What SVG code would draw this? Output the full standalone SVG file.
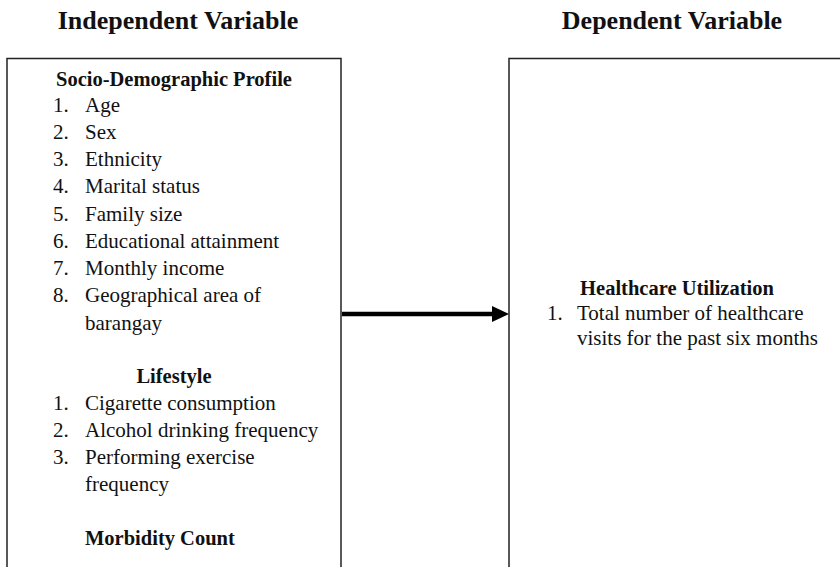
<svg xmlns="http://www.w3.org/2000/svg" width="840" height="567" viewBox="0 0 840 567">
<style>
text { font-family: "Liberation Serif", "Times New Roman", serif; fill: #111; }
.title { font-size: 26px; font-weight: bold; text-anchor: middle; }
.head { font-size: 20.5px; font-weight: bold; }
.mid { text-anchor: middle; }
.item { font-size: 21px; }
.box { fill: #fff; stroke: #222; stroke-width: 1.5; }
</style>
<defs>
<marker id="arr" markerWidth="4.5" markerHeight="4.5" refX="4" refY="2" orient="auto" markerUnits="strokeWidth">
<path d="M0,0 L4,2 L0,4 Z" fill="#000"/>
</marker>
</defs>
<rect width="840" height="567" fill="#fff"/>
<text class="title" x="178" y="29">Independent Variable</text>
<text class="title" x="672" y="29">Dependent Variable</text>

<g id="independent">
<rect class="box" x="7" y="58.5" width="334" height="530"/>
<text class="head mid" x="174" y="86">Socio-Demographic Profile</text>
<g class="item">
<text x="53" y="112">1.</text><text x="85" y="112">Age</text>
<text x="53" y="139">2.</text><text x="85" y="139">Sex</text>
<text x="53" y="166">3.</text><text x="85" y="166">Ethnicity</text>
<text x="53" y="193">4.</text><text x="85" y="193">Marital status</text>
<text x="53" y="221">5.</text><text x="85" y="221">Family size</text>
<text x="53" y="248">6.</text><text x="85" y="248">Educational attainment</text>
<text x="53" y="275">7.</text><text x="85" y="275">Monthly income</text>
<text x="53" y="302">8.</text><text x="85" y="302">Geographical area of</text>
<text x="85" y="330">barangay</text>
</g>
<text class="head mid" x="174" y="383">Lifestyle</text>
<g class="item">
<text x="53" y="410">1.</text><text x="85" y="410">Cigarette consumption</text>
<text x="53" y="437">2.</text><text x="85" y="437">Alcohol drinking frequency</text>
<text x="53" y="464">3.</text><text x="85" y="464">Performing exercise</text>
<text x="85" y="491">frequency</text>
</g>
<text class="head" x="85" y="545">Morbidity Count</text>
</g>

<g id="dependent">
<rect class="box" x="509" y="58.5" width="345" height="530"/>
<text class="head mid" x="677" y="295">Healthcare Utilization</text>
<g class="item">
<text x="547" y="320">1.</text><text x="577" y="320">Total number of healthcare</text>
<text x="577" y="345">visits for the past six months</text>
</g>
</g>

<g id="connectors">
<line x1="342" y1="314" x2="493" y2="314" stroke="#000" stroke-width="4.5"/>
<polygon points="492,306 509,314 492,322" fill="#000"/>
</g>
</svg>
